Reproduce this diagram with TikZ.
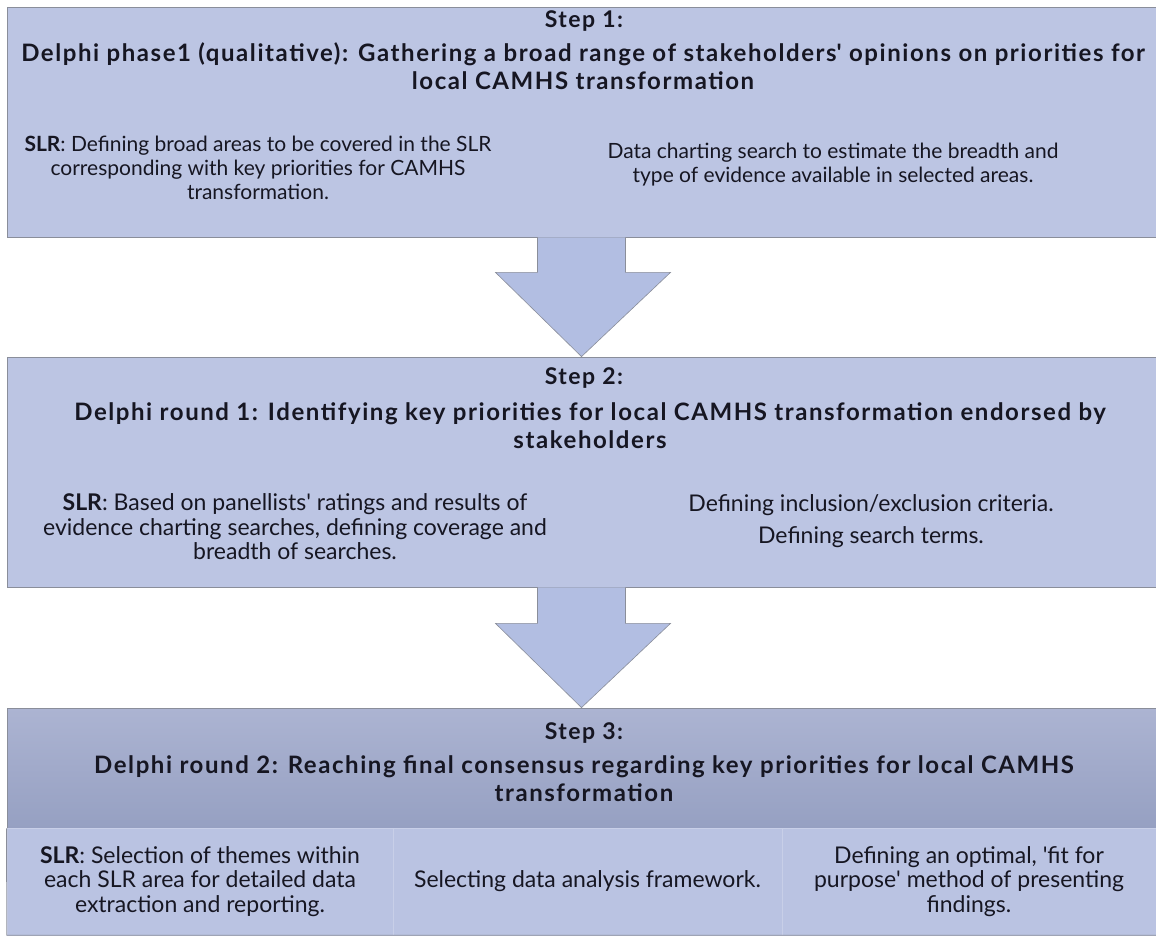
\documentclass[tikz,border=0pt]{standalone}
\usepackage{fontspec}
\setmainfont{Lato}
\newfontfamily\headfont[LetterSpace=6.5]{Lato}
\usetikzlibrary{calc}
\definecolor{boxblue}{RGB}{188,197,227}
\definecolor{celblue}{RGB}{186,195,226}
\definecolor{bandtop}{RGB}{172,180,210}
\definecolor{bandbot}{RGB}{150,160,194}
\definecolor{arrowblue}{RGB}{178,190,226}
\definecolor{edgegray}{RGB}{138,142,154}
\definecolor{inkdark}{RGB}{22,22,34}
\newcommand{\sq}{\textquotesingle}

\begin{document}
\begin{tikzpicture}[x=1pt,y=-1pt,
    box/.style={draw=edgegray, line width=0.8pt, fill=boxblue, inner sep=0pt},
    cell/.style={draw=celblue!80!white, line width=0.6pt, fill=celblue, inner sep=0pt},
    blockarrow/.style={draw=edgegray, line width=0.6pt, fill=arrowblue, line join=miter},
    steplbl/.style={font=\headfont\bfseries\fontsize{23}{26}\selectfont, text=inkdark},
    head/.style={font=\headfont\bfseries\fontsize{24}{28}\selectfont, text=inkdark, align=center},
    body/.style={font=\fontsize{21}{24}\selectfont, text=inkdark, align=center},
    bodybig/.style={font=\fontsize{23}{24.5}\selectfont, text=inkdark, align=center}]
    \useasboundingbox (0,0) rectangle (1156,936);
    \fill[white] (0,0) rectangle (1156,936);

    \node[box, minimum width=1149pt, minimum height=230pt] (b1) at (581.5,122) {};
    \node[box, minimum width=1149pt, minimum height=230pt] (b2) at (581.5,472) {};
    \node[box, top color=bandtop, bottom color=bandbot, minimum width=1149pt, minimum height=120pt] (b3) at (581.5,768) {};
    \node[cell, minimum width=386pt, minimum height=107pt] (c1) at (200,881.5) {};
    \node[cell, minimum width=389pt, minimum height=107pt] (c2) at (587.5,881.5) {};
    \node[cell, minimum width=374pt, minimum height=107pt] (c3) at (969,881.5) {};
    \draw[edgegray, line width=0.8pt] (b3.south west) -- (c1.south west) -- (c3.south east);

    \draw[blockarrow] ($(b1.south)+(-44,0)$) -- ($(b1.south)+(-44,35)$) -- ($(b1.south)+(-86,35)$)
        -- (b2.north) -- ($(b1.south)+(89,35)$) -- ($(b1.south)+(44,35)$) -- ($(b1.south)+(44,0)$);
    \draw[blockarrow] ($(b2.south)+(-44,0)$) -- ($(b2.south)+(-44,36)$) -- ($(b2.south)+(-86,36)$)
        -- (b3.north) -- ($(b2.south)+(89,36)$) -- ($(b2.south)+(44,36)$) -- ($(b2.south)+(44,0)$);

    \node[steplbl] (s1) at (584,21) {Step 1:};
    \node[head] (h1) at (583,66) {Delphi phase1 (qualitative): Gathering a broad range of stakeholders\sq{} opinions on priorities for\\local CAMHS transformation};
    \node[body] (l1) at (258,168) {\textbf{SLR}: Defining broad areas to be covered in the SLR\\corresponding with key priorities for CAMHS\\transformation.};
    \node[body] (r1) at (833,165) {Data charting search to estimate the breadth and\\type of evidence available in selected areas.};

    \node[steplbl] (s2) at (584,378) {Step 2:};
    \node[head] (h2) at (590,426) {Delphi round 1: Identifying key priorities for local CAMHS transformation endorsed by\\stakeholders};
    \node[bodybig] (l2) at (295,527) {\textbf{SLR}: Based on panellists\sq{} ratings and results of\\evidence charting searches, defining coverage and\\breadth of searches.};
    \node[bodybig] (r2) at (871,521) {Defining inclusion/exclusion criteria.\\[7pt]Defining search terms.};

    \node[steplbl] (s3) at (584,733) {Step 3:};
    \node[head] (h3) at (584,779) {Delphi round 2: Reaching final consensus regarding key priorities for local CAMHS\\transformation};
    \node[bodybig] (t1) at (c1) {\textbf{SLR}: Selection of themes within\\each SLR area for detailed data\\extraction and reporting.};
    \node[bodybig] (t2) at (c2) {Selecting data analysis framework.};
    \node[bodybig] (t3) at (c3) {Defining an optimal, \sq{}fit for\\purpose\sq{} method of presenting\\findings.};
\end{tikzpicture}
\end{document}
